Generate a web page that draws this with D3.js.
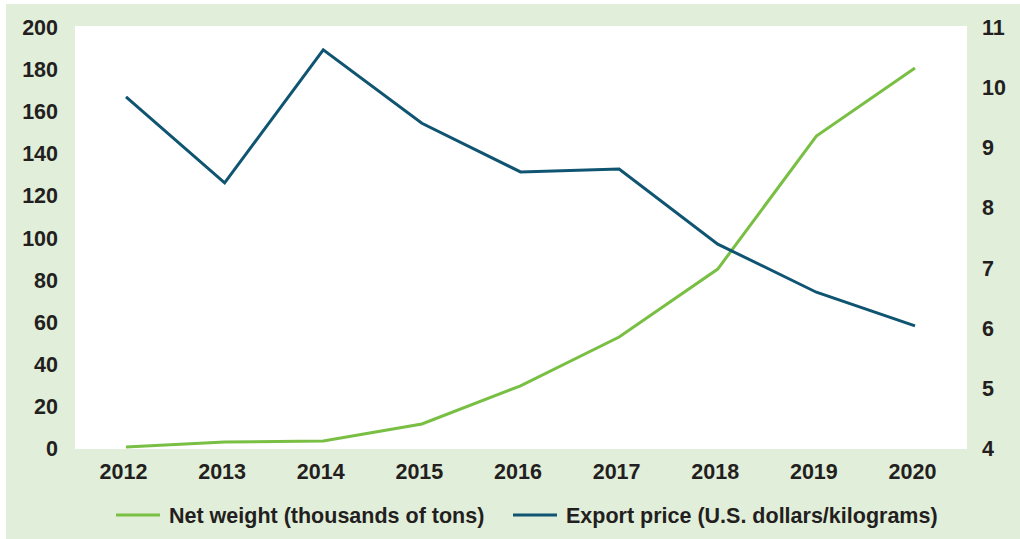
<!DOCTYPE html>
<html>
<head>
<meta charset="utf-8">
<script src="https://cdn.jsdelivr.net/npm/d3@7"></script>
<style>
  body { margin: 0; background: #fff; }
  text { font-family: "Liberation Sans", Arial, sans-serif; font-weight: bold; fill: #231f20; }
</style>
</head>
<body>
<div id="chart"></div>
<script>
// data
var years = ["2012", "2013", "2014", "2015", "2016", "2017", "2018", "2019", "2020"];
var netWeight = [0.5, 2.9, 3.3, 11.4, 29.5, 52.7, 85, 148.2, 180.5];
var exportPrice = [9.84, 8.41, 10.62, 9.40, 8.59, 8.64, 7.39, 6.59, 6.03];
var leftTicks = [0, 20, 40, 60, 80, 100, 120, 140, 160, 180, 200];
var rightTicks = [4, 5, 6, 7, 8, 9, 10, 11];
var seriesNames = ["Net weight (thousands of tons)", "Export price (U.S. dollars/kilograms)"];
var colors = ["#78bf44", "#0f5470"];

var width = 1020, height = 539;
var fontSize = "21.5px";

var svg = d3.select("#chart").append("svg")
  .attr("width", width)
  .attr("height", height);

// light green panel + white plot area
svg.append("rect")
  .attr("x", 6).attr("y", 4)
  .attr("width", width - 6).attr("height", height - 4)
  .attr("fill", "#e1eed9");

var plot = { left: 75, right: 967, top: 26, bottom: 449 };
svg.append("rect")
  .attr("x", plot.left).attr("y", plot.top)
  .attr("width", plot.right - plot.left).attr("height", plot.bottom - plot.top)
  .attr("fill", "#fff");

var x = d3.scalePoint().domain(years).range([126, 915]);
var yL = d3.scaleLinear().domain([0, 200]).range([448, 27]);
var yR = d3.scaleLinear().domain([4, 11]).range([448, 27]);

// left axis
var leftAxis = svg.append("g")
  .attr("transform", "translate(58,0)")
  .call(d3.axisLeft(yL).tickValues(leftTicks).tickFormat(d3.format("d")).tickSize(0).tickPadding(0));
leftAxis.select(".domain").remove();
leftAxis.selectAll("text").style("font-size", fontSize).attr("dy", "0.35em");

// right axis
var rightAxis = svg.append("g")
  .attr("transform", "translate(982,0)")
  .call(d3.axisRight(yR).tickValues(rightTicks).tickFormat(d3.format("d")).tickSize(0).tickPadding(0));
rightAxis.select(".domain").remove();
rightAxis.selectAll("text").style("font-size", fontSize).attr("dy", "0.35em");

// bottom axis
var bottomAxis = svg.append("g")
  .attr("transform", "translate(-3,479)")
  .call(d3.axisBottom(x).tickSize(0).tickPadding(0));
bottomAxis.select(".domain").remove();
bottomAxis.selectAll("text").style("font-size", fontSize).attr("dy", "0");

// lines
var weightLine = d3.line()
  .x(function (d, i) { return x(years[i]); })
  .y(function (d) { return yL(d); });
var priceLine = d3.line()
  .x(function (d, i) { return x(years[i]); })
  .y(function (d) { return yR(d); });

svg.append("path")
  .datum(netWeight)
  .attr("d", weightLine)
  .attr("fill", "none")
  .attr("stroke", colors[0])
  .attr("stroke-width", 3);

svg.append("path")
  .datum(exportPrice)
  .attr("d", priceLine)
  .attr("fill", "none")
  .attr("stroke", colors[1])
  .attr("stroke-width", 3);

// legend
var legendX = [116, 513];
var legend = svg.selectAll(".legend")
  .data(seriesNames)
  .enter().append("g")
  .attr("class", "legend")
  .attr("transform", function (d, i) { return "translate(" + legendX[i] + ",515)"; });

legend.append("line")
  .attr("x1", 0).attr("x2", 44)
  .attr("stroke", function (d, i) { return colors[i]; })
  .attr("stroke-width", 3);

legend.append("text")
  .attr("x", 53)
  .attr("y", 8)
  .style("font-size", fontSize)
  .text(function (d) { return d; });
</script>
</body>
</html>
